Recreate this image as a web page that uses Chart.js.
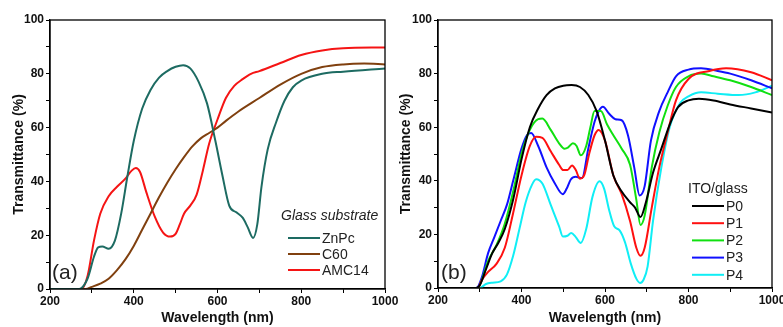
<!DOCTYPE html>
<html>
<head>
<meta charset="utf-8">
<script src="https://cdn.jsdelivr.net/npm/chart.js@4/dist/chart.umd.min.js"></script>
<style>
  body { margin: 0; background: #fff; }
  #wrap { position: relative; width: 783px; height: 327px; overflow: hidden; }
  .box { position: absolute; top: 0; height: 327px; }
</style>
</head>
<body>
<div id="wrap">
  <div class="box" style="left:0;width:400px"><canvas id="chartA"></canvas></div>
  <div class="box" style="left:391px;width:392px"><canvas id="chartB"></canvas></div>
</div>
<script>
// panel (a): glass substrate
const znpcX = [200, 270, 290, 305, 315, 325, 340, 355, 370, 385, 400, 420, 440, 460, 480, 500, 518, 535, 555, 575, 595, 612, 628, 645, 660, 672, 685, 695, 705, 720, 740, 760, 780, 800, 850, 900, 1000];
const znpcY = [0, 0, 4, 12, 15.5, 15.8, 15, 18, 28, 42, 55, 67, 74, 78.5, 81, 82.6, 83.2, 82, 77, 69, 55, 42, 31, 28.5, 26.5, 23, 19, 24, 38, 52, 62, 70, 75, 77.5, 80, 80.8, 82];
const c60X = [200, 285, 300, 320, 340, 360, 380, 400, 420, 440, 460, 480, 500, 520, 540, 560, 580, 600, 620, 650, 700, 750, 800, 850, 900, 950, 1000];
const c60Y = [0, 0, 0.8, 2, 3.8, 7, 11, 16, 22, 28, 34, 39.5, 44.5, 49, 53, 56, 58, 60, 62.5, 66, 71, 76, 80, 82.5, 83.5, 83.8, 83.5];
const amcX = [200, 275, 290, 305, 320, 340, 360, 380, 395, 405, 415, 430, 450, 470, 487, 500, 510, 520, 535, 550, 565, 580, 600, 620, 640, 660, 680, 700, 750, 800, 850, 900, 1000];
const amcY = [0, 0, 5, 18, 28, 34.5, 38, 41, 44, 45, 43.5, 36, 27, 21, 19.5, 20.5, 24, 28, 31, 35, 44, 54, 63, 71, 75.5, 78, 80, 81, 84, 87, 88.7, 89.5, 89.8];

// panel (b): ITO/glass
const p0X = [200, 290, 300, 315, 330, 345, 360, 380, 400, 420, 440, 460, 480, 500, 520, 540, 560, 580, 600, 620, 640, 660, 672, 685, 698, 715, 735, 755, 775, 800, 825, 860, 900, 950, 1000];
const p0Y = [0, 0, 1, 7, 13, 17, 22, 33, 48, 60, 67, 72, 74.5, 75.5, 75.7, 75, 72, 66, 55, 42, 36, 32, 30, 26.5, 32, 43, 52, 61, 67.5, 70, 70.6, 70, 68.5, 67, 65.5];
const p1X = [200, 295, 305, 320, 340, 360, 380, 400, 420, 435, 450, 470, 490, 500, 510, 521, 530, 540, 550, 562, 575, 585, 600, 620, 640, 660, 675, 685, 695, 712, 730, 750, 770, 800, 850, 890, 950, 1000];
const p1Y = [0, 0, 3, 6, 9, 15, 28, 42, 53, 56.4, 56, 51, 46, 44, 44, 45.7, 44, 40.8, 42, 50, 57, 59, 55, 42, 35, 25, 15, 12, 15, 30, 45, 58, 70, 78, 81, 82, 80.5, 77.5];
const p2X = [200, 295, 305, 320, 340, 360, 380, 400, 420, 440, 450, 470, 490, 503, 512, 523, 532, 542, 555, 565, 575, 590, 605, 620, 640, 660, 675, 685, 695, 712, 730, 750, 770, 800, 830, 860, 900, 950, 1000];
const p2Y = [0, 0, 3, 10, 16, 24, 36, 50, 59, 63, 63.2, 59, 54, 52, 52.5, 54, 53, 49.5, 53, 60, 66, 66, 61, 57, 52, 46, 33, 23.5, 27, 45, 58, 68, 75, 79, 80, 79, 77.5, 75, 72];
const p3X = [200, 292, 305, 320, 335, 350, 365, 380, 400, 413, 423, 440, 460, 480, 499, 508, 518, 530, 545, 560, 575, 585, 595, 610, 625, 640, 655, 670, 683, 695, 710, 730, 750, 770, 800, 830, 870, 900, 950, 1000];
const p3Y = [0, 0, 4, 13, 19, 25, 31, 40, 52, 57, 57.8, 53, 45, 39, 35, 37, 40.5, 41.5, 41, 52, 62, 66, 67.6, 65, 63, 62.6, 57, 45, 34.5, 38, 55, 66, 73, 79, 81.5, 82, 81, 80, 77.5, 74.5];
const p4X = [200, 300, 315, 330, 350, 365, 380, 395, 410, 425, 435, 450, 470, 490, 499, 510, 519, 530, 542, 555, 570, 587, 598, 610, 622, 635, 648, 662, 675, 684, 692, 702, 715, 735, 755, 780, 800, 830, 870, 920, 960, 1000];
const p4Y = [0, 0, 1.5, 2, 2.5, 5, 12, 22, 32, 38.5, 40.6, 39, 31, 23, 19.2, 19.5, 20.5, 19, 16.8, 22, 34, 39.8, 37, 29, 23, 21.5, 17, 9, 3.5, 1.9, 3, 8, 25, 45, 60, 69, 71.5, 73, 72.5, 72, 73, 75.5];

const xTicks = [200, 400, 600, 800, 1000];
const yTicks = [0, 20, 40, 60, 80, 100];

function pts(xs, ys) {
  return xs.map((x, i) => ({ x: x, y: ys[i] }));
}

function series(label, xs, ys, color) {
  return {
    label: label,
    data: pts(xs, ys),
    borderColor: color,
    backgroundColor: color,
    borderWidth: 2,
    pointRadius: 0,
    cubicInterpolationMode: 'monotone',
    fill: false
  };
}

// frame + inset legend + panel letter
const framePlugin = {
  id: 'frame',
  afterDatasetsDraw(chart, args, opts) {
    const { ctx, chartArea: a } = chart;
    ctx.save();
    ctx.strokeStyle = '#000';
    ctx.lineWidth = 1.3;
    ctx.strokeRect(a.left, a.top, a.right - a.left, a.bottom - a.top);

    ctx.fillStyle = '#222';
    ctx.font = '21px Arial, "Liberation Sans"';
    ctx.textBaseline = 'middle';
    ctx.textAlign = 'left';
    ctx.fillText(opts.letter, opts.letterX, 273);

    ctx.font = opts.titleFont;
    ctx.fillText(opts.title, opts.titleX, opts.titleY);
    ctx.font = '14px Arial, "Liberation Sans"';
    chart.data.datasets.forEach((ds, i) => {
      const y = opts.rowY + i * opts.rowH;
      ctx.strokeStyle = ds.borderColor;
      ctx.lineWidth = 2;
      ctx.beginPath();
      ctx.moveTo(opts.lineX, y);
      ctx.lineTo(opts.lineX + 32, y);
      ctx.stroke();
      ctx.fillText(ds.label, opts.lineX + 34, y + 1);
    });
    ctx.restore();
  }
};

function makeChart(id, datasets, yWidth, xHeight, titlePad, frameOpts) {
  const tickFont = { family: 'Arial, "Liberation Sans"', size: 12, weight: 'bold' };
  const titleFont = { family: 'Arial, "Liberation Sans"', size: 14, weight: 'bold' };
  new Chart(document.getElementById(id).getContext('2d'), {
    type: 'line',
    data: { datasets: datasets },
    options: {
      responsive: false,
      animation: false,
      layout: { padding: { top: 20, right: frameOpts.padRight, left: 0, bottom: 0 } },
      plugins: { legend: { display: false }, tooltip: { enabled: false }, frame: frameOpts },
      scales: {
        x: {
          type: 'linear', min: 200, max: 1000,
          afterBuildTicks: s => { s.ticks = [200, 300, 400, 500, 600, 700, 800, 900, 1000].map(v => ({ value: v })); },
          ticks: {
            color: '#111', font: tickFont, padding: 1, maxRotation: 0, autoSkip: false,
            callback: v => xTicks.includes(v) ? v : ''
          },
          grid: { drawOnChartArea: false, drawTicks: true, tickLength: 4, color: '#000', lineWidth: 1 },
          border: { color: '#000', width: 1.3 },
          title: { display: true, text: 'Wavelength (nm)', color: '#111', font: titleFont, padding: { top: 0, bottom: 0 } },
          afterFit: s => { s.height = xHeight; s.paddingLeft = 0; s.paddingRight = 0; }
        },
        y: {
          min: 0, max: 100,
          afterBuildTicks: s => { s.ticks = [0, 10, 20, 30, 40, 50, 60, 70, 80, 90, 100].map(v => ({ value: v })); },
          ticks: {
            color: '#111', font: tickFont, padding: 2, autoSkip: false,
            callback: v => yTicks.includes(v) ? v : ''
          },
          grid: { drawOnChartArea: false, drawTicks: true, tickLength: 4, color: '#000', lineWidth: 1 },
          border: { color: '#000', width: 1.3 },
          title: { display: true, text: 'Transmittance (%)', color: '#111', font: titleFont, padding: { top: titlePad, bottom: 0 } },
          afterFit: s => { s.width = yWidth; s.paddingTop = 0; s.paddingBottom = 0; }
        }
      }
    },
    plugins: [framePlugin]
  });
}

const cvA = document.getElementById('chartA');
cvA.width = 400; cvA.height = 327;
const cvB = document.getElementById('chartB');
cvB.width = 392; cvB.height = 327;

makeChart('chartA', [
  series('ZnPc', znpcX, znpcY, '#1d6b62'),
  series('C60', c60X, c60Y, '#80400f'),
  series('AMC14', amcX, amcY, '#f51414')
], 50, 38, 11, {
  padRight: 15, letter: '(a)', letterX: 52,
  title: 'Glass substrate', titleFont: 'italic 14px Arial, "Liberation Sans"', titleX: 281, titleY: 216,
  lineX: 288, rowY: 238, rowH: 16
});

makeChart('chartB', [
  series('P0', p0X, p0Y, '#000000'),
  series('P1', p1X, p1Y, '#ff1010'),
  series('P2', p2X, p2Y, '#10e010'),
  series('P3', p3X, p3Y, '#1010ff'),
  series('P4', p4X, p4Y, '#10eef5')
], 47, 39, 7, {
  padRight: 11, letter: '(b)', letterX: 50,
  title: 'ITO/glass', titleFont: '14px Arial, "Liberation Sans"', titleX: 297, titleY: 189,
  lineX: 301, rowY: 206, rowH: 17.2
});
</script>
</body>
</html>
